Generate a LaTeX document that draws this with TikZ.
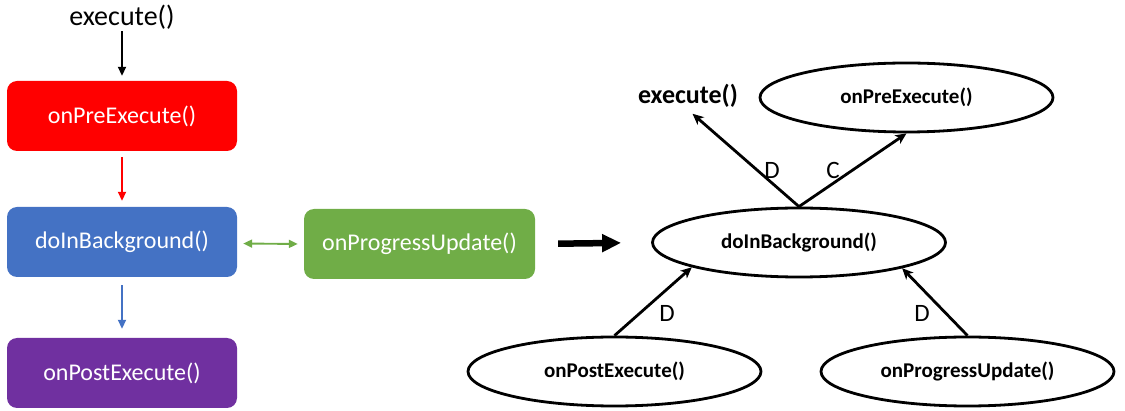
\documentclass[tikz,border=0pt]{standalone}
\usepackage{fontspec}
\setmainfont{Carlito}
\usetikzlibrary{arrows.meta,shapes.geometric}

\definecolor{preRed}{HTML}{FF0000}
\definecolor{bgBlue}{HTML}{4472C4}
\definecolor{postPurple}{HTML}{7030A0}
\definecolor{progGreen}{HTML}{70AD47}

\tikzset{
  stagebox/.style={rectangle, rounded corners=10pt, minimum width=230pt,
    minimum height=70pt, inner sep=0pt, text=white, font=\fontsize{24}{28}\selectfont},
  thinarrow/.style={line width=1.9pt, -{Triangle[length=9pt,width=8pt]}},
  bigarrow/.style={line width=6.5pt, -{Triangle[length=19pt,width=17pt]}},
  callnode/.style={ellipse, draw, line width=2.8pt, minimum width=293pt,
    minimum height=69pt, inner sep=0pt, font=\fontsize{21}{25}\selectfont\bfseries},
  dep/.style={line width=2.8pt, -{Stealth[length=11pt,width=10pt,inset=3pt]}},
  lbl/.style={font=\fontsize{25}{29}\selectfont, inner sep=0pt}
}

\begin{document}
\begin{tikzpicture}[x=1pt,y=-1pt]
  \useasboundingbox (0,0) rectangle (1125,411);

  % --- lifecycle as a column of coloured steps ---
  \node[font=\fontsize{28}{32}\selectfont, inner sep=2pt] (exec) at (122,17) {execute()};
  \node[stagebox, fill=preRed]     (pre)  at (122,116) {onPreExecute()};
  \node[stagebox, fill=bgBlue]     (bg)   at (122,242) {doInBackground()};
  \node[stagebox, fill=postPurple] (post) at (122,373) {onPostExecute()};
  \node[stagebox, fill=progGreen, minimum width=231pt] (prog) at (419.5,244) {onProgressUpdate()};

  \draw[thinarrow, black] (exec.south) -- ([yshift=5pt]pre.north);
  \draw[thinarrow, preRed, shorten <=6pt, shorten >=6pt] (pre.south) -- (bg.north);
  \draw[thinarrow, bgBlue, shorten <=8pt, shorten >=9pt] (bg.south) -- (post.north);
  \draw[line width=1.9pt, progGreen, {Triangle[length=9pt,width=8pt]}-{Triangle[length=9pt,width=8pt]},
        shorten <=6pt, shorten >=6pt] ([yshift=-1.5pt]bg.east) -- (prog.west);

  % --- the same calls as a dependency graph ---
  \node[callnode] (dib)   at (799,242.5) {doInBackground()};
  \node[callnode] (pre2)  at (906.5,97.5) {onPreExecute()};
  \node[callnode] (post2) at (614.5,371.5) {onPostExecute()};
  \node[callnode] (prog2) at (967.5,371.5) {onProgressUpdate()};
  \node[font=\fontsize{26}{30}\selectfont\bfseries, inner sep=2pt] (rexec) at (688,96) {execute()};

  \draw[bigarrow, shorten <=23pt, shorten >=30pt] (prog.east) -- (dib.west);

  \draw[dep, shorten >=6pt] (dib.north) -- (rexec.south);
  \draw[dep] (dib.north) -- (pre2.south);
  \draw[dep] (post2.north) -- (dib.193.5);
  \draw[dep] (prog2.north) -- (dib.346.2);

  \node[lbl] (d1) at (772,170) {D};
  \node[lbl] (c1) at (833,170) {C};
  \node[lbl] (d2) at (667,313) {D};
  \node[lbl] (d3) at (922,313) {D};
\end{tikzpicture}
\end{document}
